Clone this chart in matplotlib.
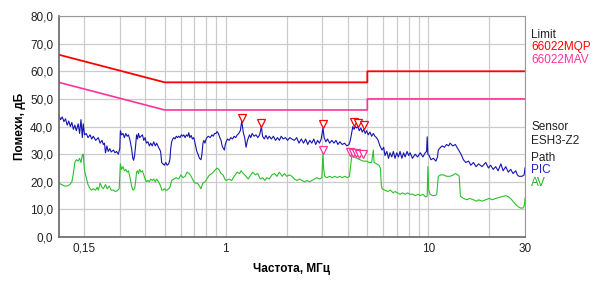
import numpy as np
import matplotlib.pyplot as plt
from matplotlib.transforms import offset_copy

plt.rcParams['font.family'] = ['Liberation Sans', 'DejaVu Sans']

# limit lines (MHz, dB)
qp_f = [0.15, 0.5, 5, 5, 30]
qp_db = [66, 56, 56, 60, 60]
av_lim_f = [0.15, 0.5, 5, 5, 30]
av_lim_db = [56, 46, 46, 50, 50]

# PIC (peak) trace
pic_f = [0.150, 0.153, 0.156, 0.159, 0.162, 0.165, 0.168, 0.171, 0.174, 0.177,
         0.180, 0.183, 0.187, 0.190, 0.193, 0.196, 0.198, 0.201, 0.205, 0.209,
         0.214, 0.218, 0.222, 0.228, 0.235, 0.240, 0.245, 0.249, 0.252, 0.255,
         0.259, 0.263, 0.268, 0.272, 0.279, 0.284, 0.289, 0.295, 0.300, 0.302,
         0.306, 0.311, 0.316, 0.321, 0.326, 0.331, 0.337, 0.343, 0.348, 0.351,
         0.355, 0.359, 0.363, 0.367, 0.371, 0.376, 0.382, 0.388, 0.394, 0.400,
         0.406, 0.413, 0.420, 0.426, 0.434, 0.441, 0.449, 0.456, 0.466, 0.477,
         0.483, 0.490, 0.498, 0.506, 0.514, 0.523, 0.530, 0.535, 0.541, 0.548,
         0.554, 0.562, 0.570, 0.578, 0.586, 0.595, 0.604, 0.613, 0.621, 0.630,
         0.640, 0.650, 0.657, 0.665, 0.675, 0.685, 0.696, 0.708, 0.720, 0.730,
         0.742, 0.755, 0.763, 0.772, 0.780, 0.790, 0.800, 0.807, 0.820, 0.838,
         0.855, 0.868, 0.880, 0.895, 0.906, 0.920, 0.935, 0.948, 0.960, 0.975,
         0.985, 0.995, 1.005, 1.02, 1.04, 1.06, 1.08, 1.10, 1.12, 1.14,
         1.16, 1.18, 1.20, 1.22, 1.24, 1.26, 1.28, 1.31, 1.33, 1.35,
         1.38, 1.41, 1.44, 1.47, 1.50, 1.52, 1.55, 1.58, 1.61, 1.64,
         1.68, 1.72, 1.76, 1.80, 1.84, 1.88, 1.92, 1.97, 2.02, 2.07,
         2.12, 2.18, 2.24, 2.30, 2.36, 2.42, 2.48, 2.54, 2.60, 2.66,
         2.72, 2.78, 2.84, 2.90, 2.96, 3.02, 3.06, 3.12, 3.18, 3.26,
         3.34, 3.42, 3.50, 3.58, 3.66, 3.76, 3.86, 3.96, 4.06, 4.12,
         4.18, 4.24, 4.30, 4.36, 4.42, 4.49, 4.56, 4.64, 4.72, 4.80,
         4.88, 4.96, 5.05, 5.15, 5.25, 5.35, 5.45, 5.55, 5.65, 5.77,
         5.91, 6.02, 6.11, 6.24, 6.36, 6.47, 6.60, 6.72, 6.85, 6.98,
         7.12, 7.25, 7.40, 7.55, 7.68, 7.85, 8.00, 8.13, 8.35, 8.61,
         8.85, 9.12, 9.40, 9.65, 9.80, 9.87, 9.95, 10.1, 10.3, 10.6,
         10.9, 11.1, 11.2, 11.5, 11.7, 12.0, 12.3, 12.6, 12.8, 13.2,
         13.6, 14.1, 14.5, 14.9, 15.3, 15.8, 16.2, 16.7, 17.2, 17.7,
         18.4, 19.2, 19.8, 20.3, 20.9, 21.5, 22.1, 22.8, 23.4, 24.1,
         24.8, 25.5, 26.2, 27.0, 27.5, 28.0, 29.0, 29.7, 30.0]
pic_db = [44.0, 42.5, 43.5, 41.8, 42.8, 40.5, 42.0, 40.0, 41.5, 39.0,
          40.5, 38.5, 41.0, 37.5, 42.5, 36.0, 41.0, 37.0, 37.5, 36.0,
          37.0, 35.5, 36.5, 35.0, 36.0, 34.0, 35.0, 33.5, 34.0, 30.5,
          33.0, 31.0, 32.0, 30.8, 31.5, 30.5, 31.0, 30.0, 32.0, 38.5,
          37.0, 37.5, 36.0, 37.5, 36.5, 37.0, 35.0, 32.0, 28.5, 27.8,
          29.5, 33.0, 37.0, 35.5, 37.5, 36.0, 36.5, 37.0, 35.0, 36.0,
          34.0, 34.5, 33.0, 34.0, 33.0, 34.5, 33.0, 34.0, 32.5, 31.0,
          27.0, 26.5, 26.0, 27.0, 26.0, 26.5, 28.0, 32.0, 34.5, 35.5,
          36.0, 35.5, 36.5, 36.0, 36.5, 36.0, 37.0, 36.5, 37.0, 36.0,
          37.0, 36.5, 37.8, 36.0, 36.8, 35.5, 36.0, 33.5, 31.0, 30.0,
          28.5, 28.0, 30.0, 34.0, 35.0, 34.0, 35.5, 36.0, 36.5, 36.0,
          37.0, 36.5, 37.5, 37.5, 38.2, 37.5, 36.0, 35.0, 33.0, 32.0,
          31.5, 33.5, 34.5, 35.5, 35.0, 36.0, 35.5, 36.5, 36.0, 37.0,
          37.5, 38.5, 42.0, 38.0, 36.0, 32.5, 35.0, 37.0, 36.0, 37.5,
          36.5, 37.0, 36.0, 37.0, 40.0, 36.5, 35.5, 36.8, 35.5, 36.5,
          35.5, 36.5, 35.0, 36.0, 35.0, 36.5, 35.5, 36.0, 35.0, 36.0,
          35.5, 35.0, 36.0, 34.0, 35.5, 34.0, 35.5, 33.5, 35.0, 34.0,
          35.5, 33.5, 35.0, 34.0, 35.5, 39.5, 36.0, 34.5, 35.5, 34.0,
          35.0, 34.0, 35.0, 33.5, 34.5, 33.5, 34.0, 33.0, 33.5, 35.0,
          37.5, 40.0, 39.0, 40.0, 39.5, 40.0, 38.5, 39.5, 38.0, 39.0,
          37.5, 38.5, 37.0, 38.0, 36.5, 37.5, 36.5, 36.0, 35.0, 33.0,
          31.5, 32.5, 29.5, 31.0, 28.5, 30.5, 29.0, 31.0, 28.5, 30.5,
          29.0, 31.0, 28.5, 30.5, 29.0, 31.0, 29.5, 30.5, 28.5, 30.0,
          29.0, 30.5, 29.0, 30.5, 31.0, 36.3, 30.0, 29.5, 28.0, 28.5,
          27.5, 29.0, 31.5, 32.5, 33.0, 32.5, 33.5, 33.0, 34.0, 33.0,
          33.5, 31.5, 30.0, 28.0, 27.0, 27.5, 26.0, 27.0, 25.5, 26.5,
          25.5, 27.0, 25.0, 26.0, 24.5, 25.5, 24.0, 26.5, 24.0, 25.5,
          23.5, 24.5, 23.0, 24.0, 22.5, 22.0, 22.0, 22.5, 25.0]

# AV trace
av_f = [0.150, 0.155, 0.160, 0.165, 0.170, 0.174, 0.177, 0.180, 0.183, 0.187,
        0.190, 0.193, 0.196, 0.198, 0.201, 0.205, 0.209, 0.214, 0.218, 0.222,
        0.228, 0.232, 0.235, 0.240, 0.245, 0.249, 0.255, 0.260, 0.266, 0.272,
        0.279, 0.285, 0.292, 0.298, 0.302, 0.306, 0.311, 0.316, 0.321, 0.326,
        0.331, 0.337, 0.343, 0.348, 0.355, 0.359, 0.363, 0.367, 0.371, 0.376,
        0.382, 0.388, 0.394, 0.400, 0.406, 0.413, 0.420, 0.426, 0.434, 0.441,
        0.449, 0.456, 0.466, 0.477, 0.483, 0.490, 0.498, 0.506, 0.514, 0.523,
        0.530, 0.541, 0.554, 0.570, 0.586, 0.600, 0.615, 0.630, 0.645, 0.660,
        0.675, 0.696, 0.710, 0.725, 0.742, 0.755, 0.770, 0.790, 0.807, 0.830,
        0.855, 0.880, 0.906, 0.925, 0.948, 0.970, 0.990, 1.005, 1.04, 1.07,
        1.10, 1.14, 1.17, 1.19, 1.22, 1.26, 1.29, 1.33, 1.36, 1.40,
        1.44, 1.48, 1.52, 1.56, 1.60, 1.64, 1.69, 1.74, 1.79, 1.84,
        1.90, 1.95, 2.00, 2.06, 2.12, 2.18, 2.25, 2.31, 2.38, 2.45,
        2.52, 2.59, 2.66, 2.74, 2.82, 2.91, 2.98, 3.02, 3.04, 3.08,
        3.15, 3.26, 3.36, 3.45, 3.55, 3.65, 3.76, 3.87, 3.98, 4.08,
        4.14, 4.19, 4.30, 4.45, 4.60, 4.75, 4.95, 5.10, 5.25, 5.35,
        5.40, 5.55, 5.70, 5.80, 5.86, 5.91, 6.11, 6.30, 6.50, 6.70,
        6.85, 7.05, 7.25, 7.45, 7.68, 7.90, 8.13, 8.40, 8.61, 8.90,
        9.12, 9.40, 9.70, 9.87, 9.95, 10.05, 10.2, 10.5, 10.8, 11.0,
        11.2, 11.5, 11.9, 12.3, 12.8, 13.3, 13.6, 14.0, 14.2, 14.4,
        14.9, 15.5, 16.0, 16.7, 17.3, 17.7, 18.4, 19.2, 20.0, 20.7,
        21.5, 22.8, 24.1, 25.0, 25.8, 26.5, 27.2, 27.8, 28.5, 29.3,
        29.8, 30.0]
av_db = [19.5, 19.0, 18.5, 18.5, 19.0, 20.0, 23.0, 27.0, 28.0, 27.5,
         28.5, 27.0, 29.5, 30.0, 24.0, 21.5, 19.0, 17.5, 17.0, 17.5,
         17.0, 18.0, 17.0, 19.5, 18.0, 17.5, 19.0, 17.5, 18.5, 17.0,
         17.0, 16.5, 16.8, 17.5, 26.5, 24.5, 25.5, 24.0, 24.5, 23.5,
         24.0, 21.5, 18.5, 17.0, 17.5, 20.0, 23.5, 24.0, 23.0, 24.5,
         23.5, 24.0, 22.5, 21.0, 20.0, 20.5, 20.0, 21.0, 20.5, 21.0,
         20.0, 21.0, 20.0, 18.5, 17.0, 17.0, 17.5, 17.0, 17.0, 17.5,
         18.0, 20.5, 21.0, 21.5, 21.0, 22.5, 21.5, 22.0, 23.5, 23.0,
         22.0, 20.0, 19.5, 19.5, 18.5, 17.5, 19.5, 20.0, 21.0, 22.5,
         23.0, 24.0, 25.0, 24.5, 23.0, 22.5, 21.0, 20.5, 21.0, 20.5,
         22.0, 23.5, 23.0, 24.0, 23.0, 22.0, 21.0, 22.5, 23.5, 22.5,
         23.0, 21.0, 21.5, 20.5, 21.5, 21.0, 22.5, 23.0, 22.0, 23.5,
         22.0, 23.0, 22.0, 22.5, 22.0, 21.0, 20.5, 21.0, 20.5, 20.0,
         20.5, 20.0, 20.5, 21.0, 21.5, 21.0, 21.5, 30.5, 25.0, 22.0,
         21.5, 22.0, 21.5, 22.0, 21.5, 22.0, 21.5, 22.0, 21.5, 22.0,
         26.0, 29.5, 29.0, 28.5, 28.0, 27.5, 27.5, 27.0, 27.0, 31.5,
         27.0, 26.5, 26.0, 25.0, 19.0, 17.5, 17.0, 16.5, 17.0, 16.0,
         16.5, 16.0, 15.5, 16.0, 15.5, 16.0, 15.5, 15.5, 15.0, 15.5,
         15.0, 15.5, 14.5, 14.8, 25.5, 17.0, 15.5, 15.0, 15.0, 15.5,
         22.0, 22.5, 22.5, 22.0, 22.0, 22.5, 23.0, 22.5, 22.0, 14.8,
         14.0, 13.5, 14.0, 13.5, 13.0, 13.5, 13.0, 13.5, 14.0, 13.5,
         14.0, 14.5, 15.0, 14.5, 13.5, 12.5, 11.5, 11.0, 10.5, 10.5,
         11.5, 14.0]

# marked peaks
pk_pic_f = [1.20, 1.50, 3.02, 4.28, 4.52, 4.80]
pk_pic_db = [41.5, 39.5, 39.0, 40.0, 39.5, 38.8]
pk_av_f = [3.02, 4.12, 4.26, 4.40, 4.56, 4.74]
pk_av_db = [29.8, 29.0, 28.8, 28.6, 28.4, 28.2]

red = '#ff0000'
pink = '#ff3399'
blue = '#1515b0'
green = '#2cc02c'

fig = plt.figure(figsize=(6, 2.86), dpi=100)
ax = fig.add_axes([0.098, 0.171, 0.777, 0.773])

ax.plot(qp_f, qp_db, color=red, lw=1.3)
ax.plot(av_lim_f, av_lim_db, color=pink, lw=1.2)
ax.plot(pic_f, pic_db, color=blue, lw=0.8)
ax.plot(av_f, av_db, color=green, lw=0.8)

up = offset_copy(ax.transData, fig=fig, y=3.5, units='points')
ax.plot(pk_pic_f, pk_pic_db, 'v', ms=6, mfc='white', mec=red, mew=0.9, transform=up)
ax.plot(pk_av_f, pk_av_db, 'v', ms=6, mfc='white', mec=pink, mew=0.9, transform=up)

ax.set_xscale('log')
ax.set_xlim(0.15, 30)
ax.set_ylim(0, 80)
ax.set_xticks([0.2, 1, 10, 30])
ax.set_xticklabels(['0,15', '1', '10', '30'])
ax.set_xticks([0.3, 0.4, 0.5, 0.6, 0.7, 0.8, 0.9, 2, 3, 4, 5, 6, 7, 8, 9, 20], minor=True)
ax.xaxis.set_minor_formatter(plt.NullFormatter())
ax.set_yticks(np.arange(0, 81, 10))
ax.set_yticklabels(['%d,0' % v for v in range(0, 81, 10)])
ax.tick_params(which='both', length=0, labelsize=8.5, colors='#222222', pad=4)
ax.grid(True, which='both', color='#cccccc', lw=0.9)
ax.set_axisbelow(True)
for s in ['top', 'right']:
    ax.spines[s].set_color('#999999')
for s in ['left', 'bottom']:
    ax.spines[s].set_color('#666666')
    ax.spines[s].set_linewidth(1.2)

ax.set_xlabel('Частота, МГц', fontsize=8.5, fontweight='bold', labelpad=6)
ax.set_ylabel('Помехи, дБ', fontsize=8.5, fontweight='bold', labelpad=3)

side = [('Limit', 0.878, '#222222'), ('66022MQP', 0.836, red), ('66022MAV', 0.790, pink),
        ('Sensor', 0.556, '#222222'), ('ESH3-Z2', 0.508, '#222222'),
        ('Path', 0.448, '#222222'), ('PIC', 0.405, '#2222cc'), ('AV', 0.360, '#22aa22')]
for txt, yy, c in side:
    fig.text(0.885, yy, txt, color=c, fontsize=8.5, va='center', ha='left')

plt.savefig('out.png', dpi=100)
